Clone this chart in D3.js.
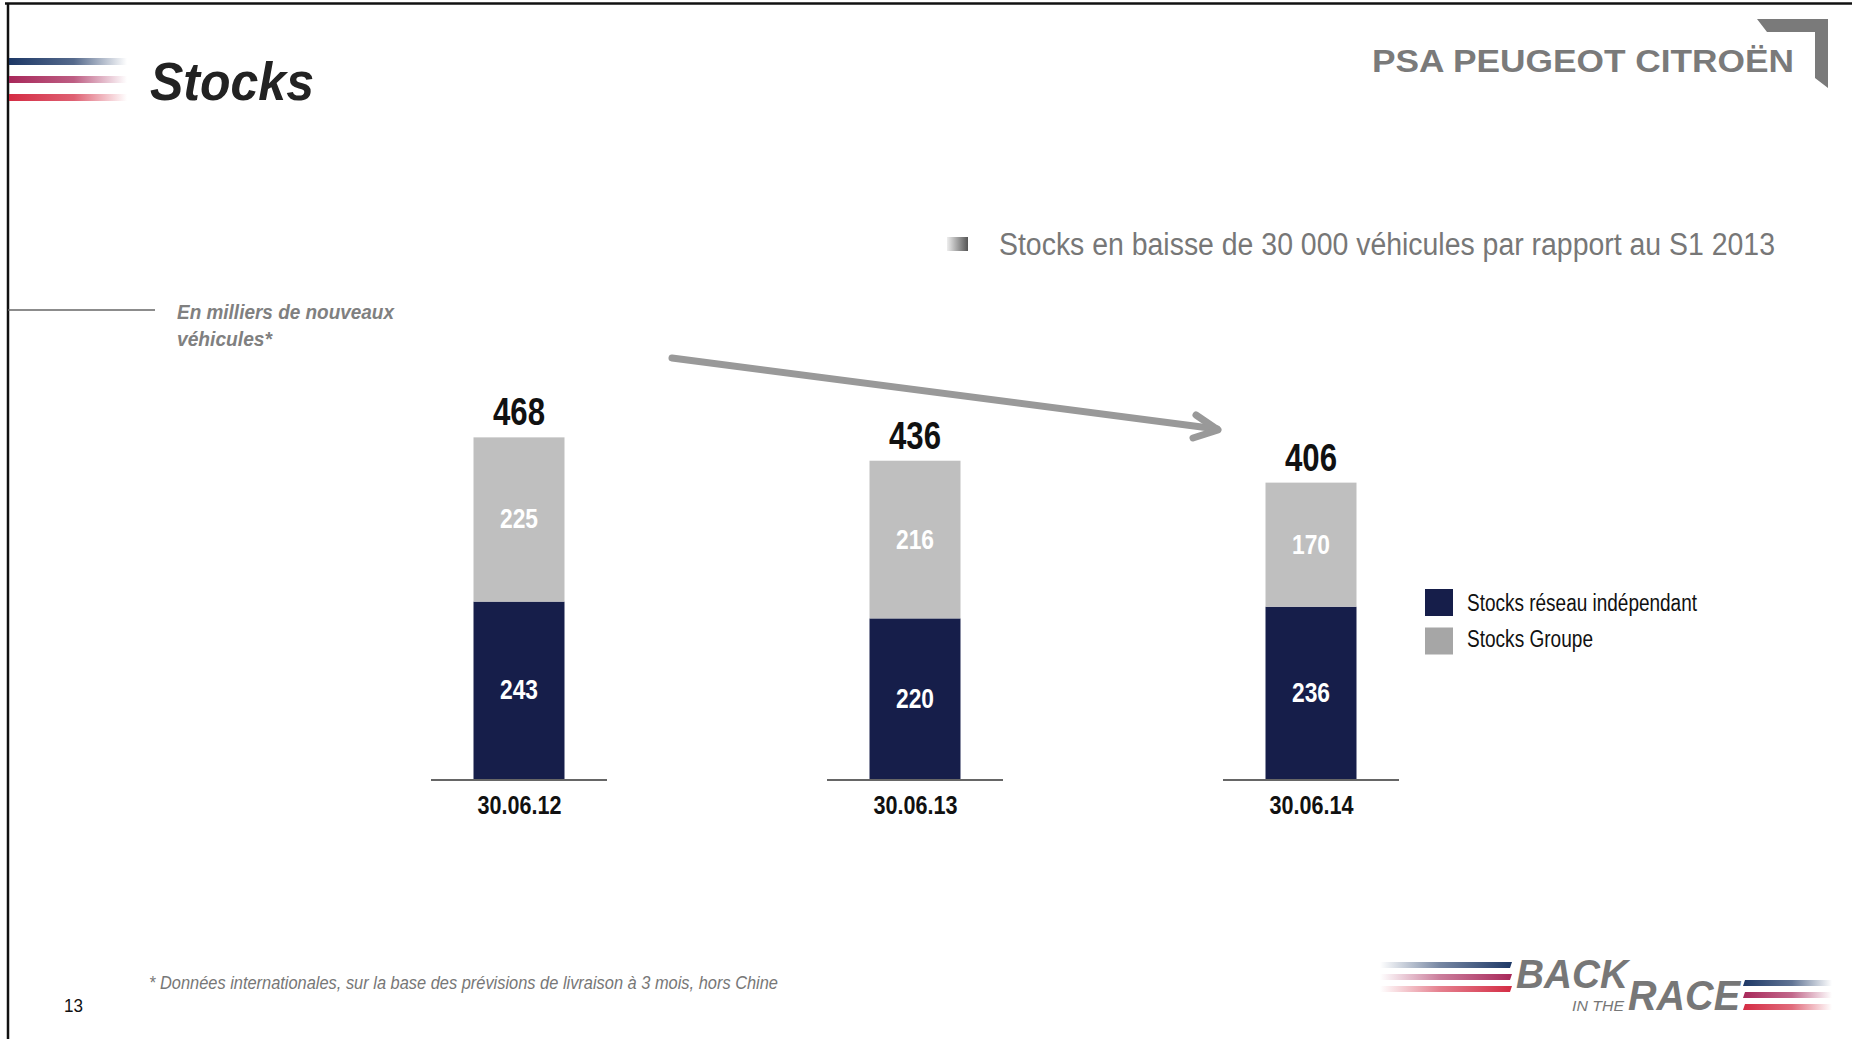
<!DOCTYPE html>
<html>
<head>
<meta charset="utf-8">
<script src="https://cdn.jsdelivr.net/npm/d3@7"></script>
<style>
  html, body { margin: 0; padding: 0; background: #fff; }
  svg { display: block; }
  .narrow { font-family: "Liberation Sans Narrow", "Arial Narrow", "Liberation Sans", Arial, sans-serif; }
  .wide { font-family: "Liberation Sans", Arial, sans-serif; }
</style>
</head>
<body>
<svg id="chart" width="1852" height="1039"></svg>
<script>
// ---------- data ----------
const categories = ["30.06.12", "30.06.13", "30.06.14"];
const reseauValues = [243, 220, 236];   // Stocks réseau indépendant
const groupeValues = [225, 216, 170];   // Stocks Groupe
const totalValues = [468, 436, 406];
const seriesNames = ["Stocks réseau indépendant", "Stocks Groupe"];
const seriesColors = ["#161e4a", "#bfbfbf"];
const legendColors = ["#161e4a", "#a6a6a6"];

const titleText = "Stocks";
const bulletText = "Stocks en baisse de 30 000 véhicules par rapport au S1 2013";
const unitLines = ["En milliers de nouveaux", "véhicules*"];
const footnoteText = "* Données internationales, sur la base des prévisions de livraison à 3 mois, hors Chine";
const pageNumber = "13";

// ---------- setup ----------
const svg = d3.select("#chart");
const defs = svg.append("defs");

function fit(sel, w) {
  sel.attr("textLength", w).attr("lengthAdjust", "spacingAndGlyphs");
  return sel;
}

function hGrad(id, color, stops) {
  const g = defs.append("linearGradient").attr("id", id)
    .attr("x1", "0%").attr("x2", "100%").attr("y1", "0%").attr("y2", "0%");
  stops.forEach(s => g.append("stop").attr("offset", s[0]).attr("stop-color", color).attr("stop-opacity", s[1]));
}

// frame
svg.append("line").attr("x1", 5).attr("x2", 1852).attr("y1", 3.5).attr("y2", 3.5)
  .attr("stroke", "#111").attr("stroke-width", 2.5);
svg.append("line").attr("x1", 8).attr("x2", 8).attr("y1", 3).attr("y2", 1039)
  .attr("stroke", "#111").attr("stroke-width", 2.5);

// title stripes
const stripeCols = ["#1d3866", "#a8285a", "#d42c44"];
stripeCols.forEach((c, i) => {
  hGrad("ts" + i, c, [["0%", 1], ["55%", 0.75], ["100%", 0]]);
  svg.append("rect").attr("x", 9).attr("y", 58 + i * 18).attr("width", 118).attr("height", 7)
    .attr("fill", `url(#ts${i})`);
});

svg.append("text").attr("class", "wide").attr("x", 150).attr("y", 100)
  .attr("font-size", 54).attr("font-weight", "bold").attr("font-style", "italic")
  .attr("fill", "#222").text(titleText).call(fit, 164);

// PSA logo
svg.append("text").attr("class", "wide").attr("x", 1372).attr("y", 72)
  .attr("font-size", 31).attr("font-weight", "bold").attr("fill", "#7a7a7a")
  .text("PSA PEUGEOT CITROËN").call(fit, 422);
svg.append("polygon")
  .attr("points", "1757,19 1828,19 1828,88 1815,78 1815,32 1767,32")
  .attr("fill", "#7a7a7a");

// bullet
hGrad("bul", "#555", [["0%", 0.1], ["100%", 1]]);
svg.append("rect").attr("x", 947).attr("y", 237).attr("width", 21).attr("height", 14).attr("fill", "url(#bul)");
svg.append("text").attr("class", "narrow").attr("x", 999).attr("y", 255)
  .attr("font-size", 31).attr("fill", "#777").text(bulletText).call(fit, 776);

// unit label
svg.append("line").attr("x1", 8).attr("x2", 155).attr("y1", 310).attr("y2", 310)
  .attr("stroke", "#666").attr("stroke-width", 1.5);
svg.append("text").attr("class", "narrow").attr("x", 177).attr("y", 319)
  .attr("font-size", 21).attr("font-weight", "bold").attr("font-style", "italic").attr("fill", "#808080")
  .text(unitLines[0]).call(fit, 217);
svg.append("text").attr("class", "narrow").attr("x", 177).attr("y", 346)
  .attr("font-size", 21).attr("font-weight", "bold").attr("font-style", "italic").attr("fill", "#808080")
  .text(unitLines[1]).call(fit, 95);

// ---------- chart ----------
const baseY = 779;
const x = d3.scalePoint().domain(categories).range([519, 1311]);
const y = d3.scaleLinear().domain([0, 500]).range([baseY, baseY - 500 * 0.73]);
const barW = 91;

const rows = categories.map((c, i) => ({ cat: c, reseau: reseauValues[i], groupe: groupeValues[i], total: totalValues[i] }));
const stack = d3.stack().keys(["reseau", "groupe"])(rows);

const g = svg.append("g");
stack.forEach((layer, li) => {
  g.selectAll(null).data(layer).enter().append("rect")
    .attr("x", d => x(d.data.cat) - barW / 2)
    .attr("y", d => y(d[1]))
    .attr("width", barW)
    .attr("height", d => y(d[0]) - y(d[1]))
    .attr("fill", seriesColors[li]);
  g.selectAll(null).data(layer).enter().append("text")
    .attr("class", "narrow")
    .attr("x", d => x(d.data.cat))
    .attr("y", d => (y(d[0]) + y(d[1])) / 2 + 9)
    .attr("text-anchor", "middle")
    .attr("font-size", 27).attr("font-weight", "bold").attr("fill", "#fff")
    .text(d => d[1] - d[0])
    .call(fit, 38);
});

// baselines per bar
g.selectAll(null).data(categories).enter().append("line")
  .attr("x1", d => x(d) - 88).attr("x2", d => x(d) + 88)
  .attr("y1", baseY + 1).attr("y2", baseY + 1)
  .attr("stroke", "#666").attr("stroke-width", 2);

// totals
g.selectAll(null).data(rows).enter().append("text")
  .attr("class", "narrow")
  .attr("x", d => x(d.cat)).attr("y", d => y(d.total) - 12)
  .attr("text-anchor", "middle")
  .attr("font-size", 38).attr("font-weight", "bold").attr("fill", "#111")
  .text(d => d.total).call(fit, 52);

// category labels (axis)
const xAxis = d3.axisBottom(x).tickSize(0).tickPadding(0);
const axG = svg.append("g").attr("transform", `translate(0,${baseY + 35})`).call(xAxis);
axG.select(".domain").remove();
axG.selectAll("text")
  .attr("class", "narrow")
  .attr("dy", 0).attr("y", 0)
  .attr("font-size", 26).attr("font-weight", "bold").attr("fill", "#111")
  .attr("font-family", null)
  .call(fit, 84);

// arrow
svg.append("line").attr("x1", 672).attr("y1", 358).attr("x2", 1217).attr("y2", 429)
  .attr("stroke", "#999").attr("stroke-width", 7).attr("stroke-linecap", "round");
svg.append("polyline").attr("points", "1196,415 1218,430 1193,438")
  .attr("fill", "none").attr("stroke", "#999").attr("stroke-width", 7)
  .attr("stroke-linecap", "round").attr("stroke-linejoin", "round");

// legend
const leg = svg.append("g");
seriesNames.forEach((n, i) => {
  leg.append("rect").attr("x", 1425).attr("y", 589 + i * 38.5).attr("width", 28).attr("height", 27)
    .attr("fill", legendColors[i]);
  leg.append("text").attr("class", "narrow").attr("x", 1467).attr("y", 611 + i * 36)
    .attr("font-size", 23).attr("fill", "#111").text(n)
    .call(fit, i === 0 ? 230 : 126);
});

// footnote & page number
svg.append("text").attr("class", "narrow").attr("x", 149).attr("y", 989)
  .attr("font-size", 19).attr("font-style", "italic").attr("fill", "#777")
  .text(footnoteText).call(fit, 629);
svg.append("text").attr("class", "narrow").attr("x", 64).attr("y", 1012)
  .attr("font-size", 19).attr("fill", "#111").text(pageNumber).call(fit, 19);

// BACK IN THE RACE logo
const lc = ["#1d3866", "#a8285a", "#d42c44"];
lc.forEach((c, i) => {
  hGrad("bl" + i, c, [["0%", 0], ["45%", 0.6], ["100%", 1]]);
  hGrad("br" + i, c, [["0%", 1], ["55%", 0.7], ["100%", 0]]);
  svg.append("polygon")
    .attr("points", `${1380},${962 + i * 12} ${1512},${962 + i * 12} ${1510},${968 + i * 12} ${1380},${968 + i * 12}`)
    .attr("fill", `url(#bl${i})`);
  svg.append("polygon")
    .attr("points", `${1745},${980 + i * 12} ${1832},${980 + i * 12} ${1832},${986 + i * 12} ${1743},${986 + i * 12}`)
    .attr("fill", `url(#br${i})`);
});
svg.append("text").attr("class", "wide").attr("x", 1516).attr("y", 988)
  .attr("font-size", 40).attr("font-weight", "bold").attr("font-style", "italic").attr("fill", "#777")
  .text("BACK").call(fit, 112);
svg.append("text").attr("class", "wide").attr("x", 1572).attr("y", 1011)
  .attr("font-size", 15).attr("font-style", "italic").attr("fill", "#777")
  .text("IN THE").call(fit, 52);
svg.append("text").attr("class", "wide").attr("x", 1628).attr("y", 1010)
  .attr("font-size", 42).attr("font-weight", "bold").attr("font-style", "italic").attr("fill", "#777")
  .text("RACE").call(fit, 112);
</script>
</body>
</html>
